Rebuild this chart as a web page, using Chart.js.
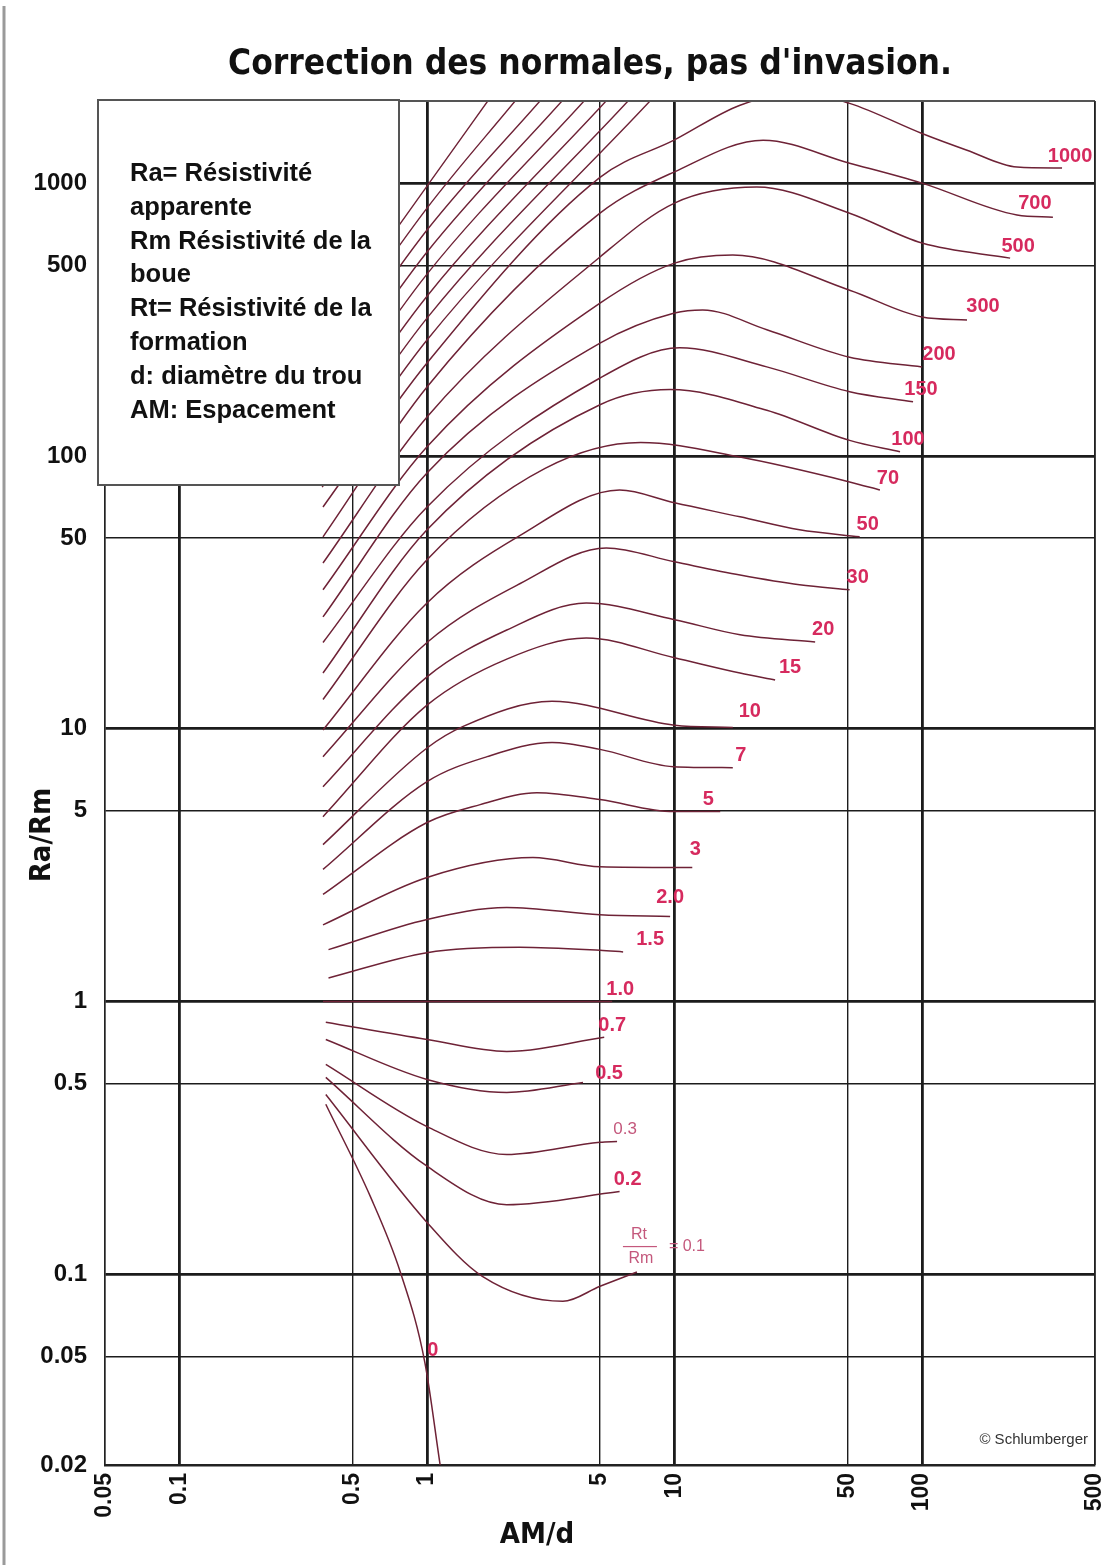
<!DOCTYPE html>
<html>
<head>
<meta charset="utf-8">
<script src="https://cdn.jsdelivr.net/npm/chart.js@4.4.1/dist/chart.umd.min.js"></script>
<style>
  html, body { margin: 0; padding: 0; background: #fff; }
  canvas { display: block; }
</style>
</head>
<body>
<canvas id="abaque" width="1107" height="1565"></canvas>
<script>
// axes
const xTicks = [0.05, 0.1, 0.5, 1, 5, 10, 50, 100, 500];
const xTickLabels = ['0.05', '0.1', '0.5', '1', '5', '10', '50', '100', '500'];
const yTicks = [0.02, 0.05, 0.1, 0.5, 1, 5, 10, 50, 100, 500, 1000];
const yTickLabels = ['0.02', '0.05', '0.1', '0.5', '1', '5', '10', '50', '100', '500', '1000'];

const rt1000 = [[0.38, 65], [1, 219], [5, 1050], [10, 1440], [18.4, 1930], [32, 2150], [51, 1960], [100, 1520], [152, 1320], [242, 1145], [368, 1135]];
const rt700 = [[0.38, 50.5], [1, 179], [5, 776], [10, 1100], [22.8, 1437], [51, 1183], [100, 1000], [242, 764], [338, 750]];
const rt500 = [[0.38, 40.5], [1, 139], [5, 536], [10, 845], [21.5, 967], [51, 776], [100, 603], [227, 531]];
const rt300 = [[0.38, 32.3], [1, 108], [5, 363], [10, 509], [17.2, 545], [51, 405], [100, 323], [152, 315]];
const rt200 = [[0.38, 25.7], [1, 86.6], [5, 259], [10, 334], [13, 343], [23.6, 290], [51, 230], [100, 212]];
const rt150 = [[0.38, 20.7], [1, 65], [5, 193], [10.5, 249], [23.6, 212], [51, 172], [92, 158]];
const rt100 = [[0.38, 16], [1, 53.6], [5, 154], [9.6, 175], [23.6, 147], [51, 114], [81.5, 103.5]];
const rt70 = [[0.38, 12.8], [1, 41.6], [3, 90], [7.3, 112], [18.4, 99], [51, 80.3], [67.6, 75]];
const rt50 = [[0.38, 9.9], [1, 28.9], [2.37, 51], [6, 75], [10, 67.3], [18.4, 59.8], [32, 53.6], [56, 50.5]];
const rt30 = [[0.38, 7.9], [1, 20.7], [2.37, 34], [5.3, 46], [10, 40.9], [18.4, 36.6], [32, 33.7], [51, 32.3]];
const rt20 = [[0.38, 6.13], [1, 15.5], [2.1, 23], [4.4, 28.9], [10, 25.1], [18.4, 22.1], [37, 20.8]];
const rt15 = [[0.38, 4.76], [1, 12.2], [2.1, 18], [4.4, 21.5], [10, 18.2], [18.4, 16], [25.5, 15.1]];
const rt10 = [[0.38, 3.76], [1, 8.5], [1.4, 10.2], [3.2, 12.6], [10, 10.3], [17.2, 10.1]];
const rt7 = [[0.38, 3.05], [1, 6.4], [1.75, 7.9], [3.2, 8.9], [5, 8.4], [9.9, 7.26], [17.2, 7.2]];
const rt5 = [[0.38, 2.47], [1, 4.53], [1.64, 5.27], [2.78, 5.83], [5, 5.5], [9.9, 4.97], [15.3, 4.97]];
const rt3 = [[0.38, 1.91], [1, 2.85], [2.68, 3.37], [5, 3.12], [11.8, 3.1]];
const rt2 = [[0.4, 1.55], [1, 2.0], [2.1, 2.21], [5, 2.08], [9.6, 2.05]];
const rt1_5 = [[0.4, 1.22], [1, 1.51], [2.37, 1.58], [5, 1.54], [6.2, 1.52]];
const rt1 = [[0.38, 1], [5.6, 1]];
const rt0_7 = [[0.39, 0.84], [1, 0.726], [2.1, 0.656], [5.2, 0.74]];
const rt0_5 = [[0.39, 0.726], [1, 0.518], [2.1, 0.464], [4.27, 0.505]];
const rt0_3 = [[0.39, 0.588], [1, 0.348], [2.1, 0.275], [5, 0.305], [5.86, 0.307]];
const rt0_2 = [[0.39, 0.527], [1, 0.249], [2.1, 0.18], [6, 0.201]];
const rt0_1 = [[0.39, 0.456], [1, 0.155], [1.68, 0.098], [3.54, 0.0796], [5, 0.0904], [7.05, 0.102]];
const rt0 = [[0.39, 0.42], [0.59, 0.193], [0.78, 0.102], [0.98, 0.0476], [1.13, 0.02]];

const curves = [rt1000, rt700, rt500, rt300, rt200, rt150, rt100, rt70, rt50, rt30, rt20, rt15,
  rt10, rt7, rt5, rt3, rt2, rt1_5, rt1, rt0_7, rt0_5, rt0_3, rt0_2, rt0_1, rt0];
const curveLabels = ['1000', '700', '500', '300', '200', '150', '100', '70', '50', '30', '20', '15',
  '10', '7', '5', '3', '2.0', '1.5', '1.0', '0.7', '0.5', '0.3', '0.2', '0.1', '0'];

// unlabelled high Rt/Rm lines in the hatched zone (they leave the top of the grid)
const hatchLines = [
  [[0.377, 76.9], [1, 266], [7.96, 2000]],
  [[0.377, 92.7], [1, 320], [6.49, 2000]],
  [[0.377, 112], [1, 385], [5.29, 2000]],
  [[0.377, 134], [1, 464], [4.31, 2000]],
  [[0.377, 162], [1, 559], [3.51, 2000]],
  [[0.377, 195], [1, 673], [2.86, 2000]],
  [[0.377, 234], [1, 810], [2.27, 2000]],
  [[0.377, 282], [1, 975], [1.76, 2000]]
];

const legendLines = ['Ra= Résistivité', 'apparente', 'Rm Résistivité de la', 'boue',
  'Rt= Résistivité de la', 'formation', 'd: diamètre du trou', 'AM: Espacement'];

const SANS = '"Liberation Sans", Arial, sans-serif';
const NARROW = '"Liberation Sans Narrow", "DejaVu Sans Condensed", "Liberation Sans", sans-serif';
const lineColor = '#6e2236';
const labelColor = '#d62a5e';

function isDecade(v) {
  const l = Math.log10(v);
  return Math.abs(l - Math.round(l)) < 1e-6;
}

function toXY(pts) {
  return pts.map(p => ({ x: p[0], y: p[1] }));
}

const datasets = curves.map(pts => ({
  data: toXY(pts),
  borderColor: lineColor,
  borderWidth: 1.5,
  pointRadius: 0,
  cubicInterpolationMode: 'monotone',
  fill: false
})).concat(hatchLines.map(pts => ({
  data: toXY(pts),
  borderColor: lineColor,
  borderWidth: 1.4,
  pointRadius: 0,
  cubicInterpolationMode: 'monotone',
  fill: false
})));

// label offsets from the end of each curve
const labelNudge = { '700': [-18, -14], '5': [-12, -12], '1.5': [27, -12], '0.5': [26, -9],
  '300': [16, -13], '200': [17, -12], '10': [17, -16], '15': [15, -12], '3': [3, -18], '2.0': [0, -19] };

const decorations = {
  id: 'decorations',
  beforeDraw(chart) {
    const ctx = chart.ctx;
    ctx.save();
    ctx.fillStyle = '#fff';
    ctx.fillRect(0, 0, chart.width, chart.height);
    ctx.restore();
  },
  afterDraw(chart) {
    const { ctx, chartArea: a, scales } = chart;
    const sx = scales.x, sy = scales.y;
    ctx.save();

    // page edge
    ctx.strokeStyle = '#9a9a9a';
    ctx.lineWidth = 3;
    ctx.beginPath();
    ctx.moveTo(4, 6);
    ctx.lineTo(4, chart.height);
    ctx.stroke();

    // frame top and right
    ctx.strokeStyle = '#555';
    ctx.lineWidth = 2;
    ctx.beginPath();
    ctx.moveTo(a.left, a.top);
    ctx.lineTo(a.right, a.top);
    ctx.stroke();
    ctx.strokeStyle = '#222';
    ctx.lineWidth = 1.5;
    ctx.beginPath();
    ctx.moveTo(a.right, a.top);
    ctx.lineTo(a.right, a.bottom);
    ctx.stroke();

    // curve labels
    ctx.textAlign = 'center';
    ctx.textBaseline = 'middle';
    curveLabels.forEach((lab, i) => {
      const pts = curves[i];
      let p = pts[pts.length - 1];
      if (lab === '0') p = pts[3];
      const px = sx.getPixelForValue(p[0]);
      const py = sy.getPixelForValue(p[1]);
      if (lab === '0.1') {
        ctx.fillStyle = '#c4587c';
        ctx.font = '16px ' + SANS;
        ctx.fillText('Rt', px + 2, py - 37);
        ctx.fillText('Rm', px + 4, py - 13);
        ctx.fillRect(px - 14, py - 26, 34, 1.2);
        ctx.fillText('= 0.1', px + 50, py - 25);
        return;
      }
      const d = labelNudge[lab] || [8, -12];
      if (lab === '0.3') {
        ctx.fillStyle = '#c4587c';
        ctx.font = '17px ' + SANS;
      } else {
        ctx.fillStyle = labelColor;
        ctx.font = 'bold 20px ' + SANS;
      }
      ctx.fillText(lab, px + d[0], py + d[1]);
    });

    // legend box
    ctx.fillStyle = '#fff';
    ctx.fillRect(98, 100, 301, 385);
    ctx.strokeStyle = '#555';
    ctx.lineWidth = 2;
    ctx.strokeRect(98, 100, 301, 385);
    ctx.fillStyle = '#111';
    ctx.font = 'bold 25.5px ' + SANS;
    ctx.textAlign = 'left';
    ctx.textBaseline = 'alphabetic';
    legendLines.forEach((t, i) => ctx.fillText(t, 130, 181 + i * 33.8));

    // title
    ctx.textAlign = 'center';
    ctx.font = 'bold 35px ' + NARROW;
    ctx.fillText("Correction des normales, pas d'invasion.", 590, 74);

    // axis titles
    ctx.font = 'bold 29px ' + NARROW;
    ctx.fillText('AM/d', 537, 1543);
    ctx.save();
    ctx.translate(50, 835);
    ctx.rotate(-Math.PI / 2);
    ctx.fillText('Ra/Rm', 0, 0);
    ctx.restore();

    // credit
    ctx.font = '15px ' + SANS;
    ctx.fillStyle = '#333';
    ctx.textAlign = 'right';
    ctx.fillText('\u00A9 Schlumberger', 1088, 1444);

    ctx.restore();
  }
};

new Chart(document.getElementById('abaque'), {
  type: 'line',
  data: { datasets: datasets },
  plugins: [decorations],
  options: {
    responsive: false,
    animation: false,
    layout: { padding: { top: 101, right: 12, bottom: 0, left: 0 } },
    plugins: {
      legend: { display: false },
      tooltip: { enabled: false },
      title: { display: false }
    },
    scales: {
      x: {
        type: 'logarithmic',
        min: 0.05,
        max: 500,
        afterFit: s => { s.height = 100; s.paddingLeft = 0; s.paddingRight = 0; },
        afterBuildTicks: s => { s.ticks = xTicks.map(v => ({ value: v })); },
        ticks: {
          autoSkip: false,
          minRotation: 90,
          maxRotation: 90,
          padding: 8,
          color: '#111',
          font: { family: SANS, size: 23, weight: 'bold' },
          callback: (v, i) => xTickLabels[i]
        },
        grid: {
          drawTicks: false,
          color: '#1c1c1c',
          lineWidth: c => (c.tick && isDecade(c.tick.value) ? 2.8 : 1.4)
        },
        border: { display: true, color: '#222', width: 2.5 }
      },
      y: {
        type: 'logarithmic',
        min: 0.02,
        max: 2000,
        afterFit: s => { s.width = 105; s.paddingTop = 0; s.paddingBottom = 0; },
        afterBuildTicks: s => { s.ticks = yTicks.map(v => ({ value: v })); },
        ticks: {
          autoSkip: false,
          padding: 18,
          color: '#111',
          font: { family: SANS, size: 24, weight: 'bold' },
          callback: (v, i) => yTickLabels[i]
        },
        grid: {
          drawTicks: false,
          color: '#1c1c1c',
          lineWidth: c => (c.tick && isDecade(c.tick.value) ? 2.8 : 1.4)
        },
        border: { display: true, color: '#222', width: 1.5 }
      }
    }
  }
});
</script>
</body>
</html>
